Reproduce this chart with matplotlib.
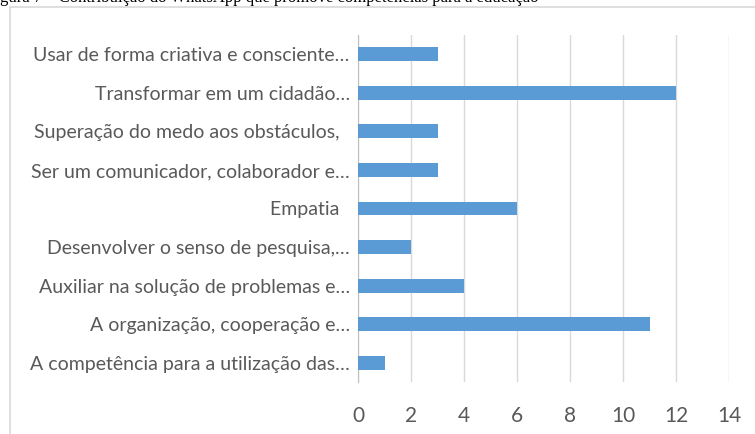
import matplotlib.pyplot as plt
from matplotlib.lines import Line2D

# dados (de baixo para cima)
categorias = [
    "A competência para a utilização das…",
    "A organização, cooperação e…",
    "Auxiliar na solução de problemas e…",
    "Desenvolver o senso de pesquisa,…",
    "Empatia  ",
    "Ser um comunicador, colaborador e…",
    "Superação do medo aos obstáculos,  ",
    "Transformar em um cidadão…",
    "Usar de forma criativa e consciente…",
]
valores = [1, 11, 4, 2, 6, 3, 3, 12, 3]
ticks_x = [0, 2, 4, 6, 8, 10, 12, 14]

titulo = "gura 7 – Contribuição do WhatsApp que promove competências para a educação"

fig = plt.figure(figsize=(7.55, 4.34), dpi=100)
ax = fig.add_axes([358 / 755, 1 - 382 / 434, (729 - 358) / 755, (382 - 35) / 434])

ax.barh(range(len(categorias)), valores, height=0.36, color="#5b9bd5", zorder=3)
ax.set_xlim(0, 14)
ax.set_ylim(-0.5, len(categorias) - 0.5)
ax.set_xticks(ticks_x)
ax.set_yticks(range(len(categorias)))
ax.set_yticklabels(categorias)

ax.grid(axis="x", color="#d9d9d9", linewidth=1, zorder=0)
for s in ["top", "right", "bottom"]:
    ax.spines[s].set_visible(False)
ax.spines["left"].set_color("#bfbfbf")
ax.tick_params(axis="both", length=0, colors="#595959")
ax.tick_params(axis="x", pad=17, labelsize=15)
ax.tick_params(axis="y", pad=6, labelsize=14)
for lab in ax.get_xticklabels() + ax.get_yticklabels():
    lab.set_family(["Lato", "DejaVu Sans"])

# moldura do gráfico
fig.add_artist(Line2D([10 / 755, 1], [1 - 7 / 434] * 2, color="#d9d9d9", lw=1.2))
fig.add_artist(Line2D([10 / 755] * 2, [0, 1 - 7 / 434], color="#d9d9d9", lw=1.2))

# título cortado no topo, como na imagem original
fig.text(0, 1 - 1.5 / 434, titulo, family="Liberation Serif", fontsize=12,
         va="baseline", ha="left", color="black")

fig.savefig("out.png", dpi=100)
